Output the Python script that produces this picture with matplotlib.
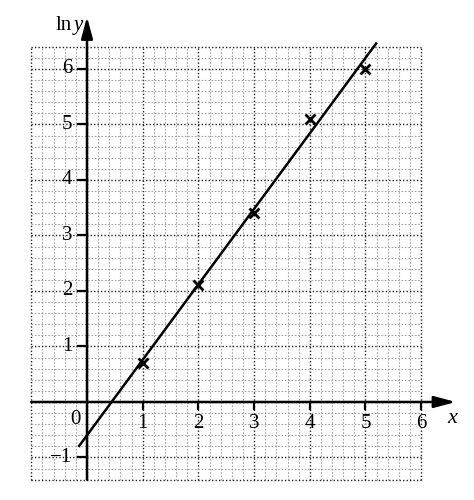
import matplotlib
matplotlib.use('Agg')
import matplotlib.pyplot as plt
import numpy as np

# data
x_points = [1, 2, 3, 4, 5]
lny_points = [0.7, 2.1, 3.4, 5.1, 6.0]
fit_slope = 1.36
fit_intercept = -0.6
fit_x_range = [-0.14, 5.19]
x_ticks = [1, 2, 3, 4, 5, 6]
y_ticks = [-1, 1, 2, 3, 4, 5, 6]

serif = 'Liberation Serif'

fig = plt.figure(figsize=(4.74, 5.0), dpi=100)
ax = fig.add_axes([0, 0, 1, 1])
ax.set_xlim(-1.562, 6.948)
ax.set_ylim(-1.766, 7.243)
ax.axis('off')

# graph paper grid
gx0, gx1, gy0, gy1 = -1.0, 6.0, -1.4, 6.4
minor_x = np.round(np.arange(gx0, gx1 + 0.01, 0.2), 2)
minor_y = np.round(np.arange(gy0, gy1 + 0.01, 0.2), 2)
for v in minor_x:
    major = abs(v - round(v)) < 1e-6
    ax.vlines(v, gy0, gy1, colors='#222222' if major else '#a5a5a5',
              linestyles=(0, (1, 1.5)) if major else (0, (1.5, 1.5)),
              linewidth=1.0 if major else 0.8, zorder=1)
for v in minor_y:
    major = abs(v - round(v)) < 1e-6 or v in (gy0, gy1)
    ax.hlines(v, gx0, gx1, colors='#222222' if major else '#a5a5a5',
              linestyles=(0, (1, 1.5)) if major else (0, (1.5, 1.5)),
              linewidth=1.0 if major else 0.8, zorder=1)

# axes with arrow heads
ax.annotate('', xy=(6.62, 0), xytext=(gx0, 0),
            arrowprops=dict(arrowstyle='-|>,head_length=1.3,head_width=0.35', color='black',
                            lw=1.8, shrinkA=0, shrinkB=0), zorder=3)
ax.annotate('', xy=(0, 6.94), xytext=(0, gy0),
            arrowprops=dict(arrowstyle='-|>,head_length=1.3,head_width=0.35', color='black',
                            lw=1.8, shrinkA=0, shrinkB=0), zorder=3)

# ticks and labels
for t in x_ticks:
    ax.plot([t, t], [0, -0.13], color='black', lw=1.6, zorder=3)
    ax.text(t, -0.22, str(t), ha='center', va='top', fontsize=15, family=serif, zorder=4)
for t in y_ticks:
    ax.plot([0, -0.16], [t, t], color='black', lw=1.6, zorder=3)
    lab = '\u2212' + str(abs(t)) if t < 0 else str(t)
    ax.text(-0.26, t, lab, ha='right', va='center', fontsize=15, family=serif, zorder=4)
ax.text(-0.12, -0.15, '0', ha='right', va='top', fontsize=15, family=serif, zorder=4)
ax.text(6.46, -0.13, 'x', ha='left', va='top', fontsize=16, family=serif, style='italic', zorder=4)
ax.text(-0.56, 6.7, 'ln', ha='left', va='baseline', fontsize=15, family=serif, zorder=4)
ax.text(-0.23, 6.7, 'y', ha='left', va='baseline', fontsize=15, family=serif, style='italic', zorder=4)

# fitted line and data points
fx = np.array(fit_x_range)
ax.plot(fx, fit_slope * fx + fit_intercept, color='black', lw=1.8, zorder=5)
ax.plot(x_points, lny_points, linestyle='none', marker='x', color='black',
        markersize=7, markeredgewidth=2, zorder=6)

plt.savefig('out.png', dpi=100)
plt.close()
